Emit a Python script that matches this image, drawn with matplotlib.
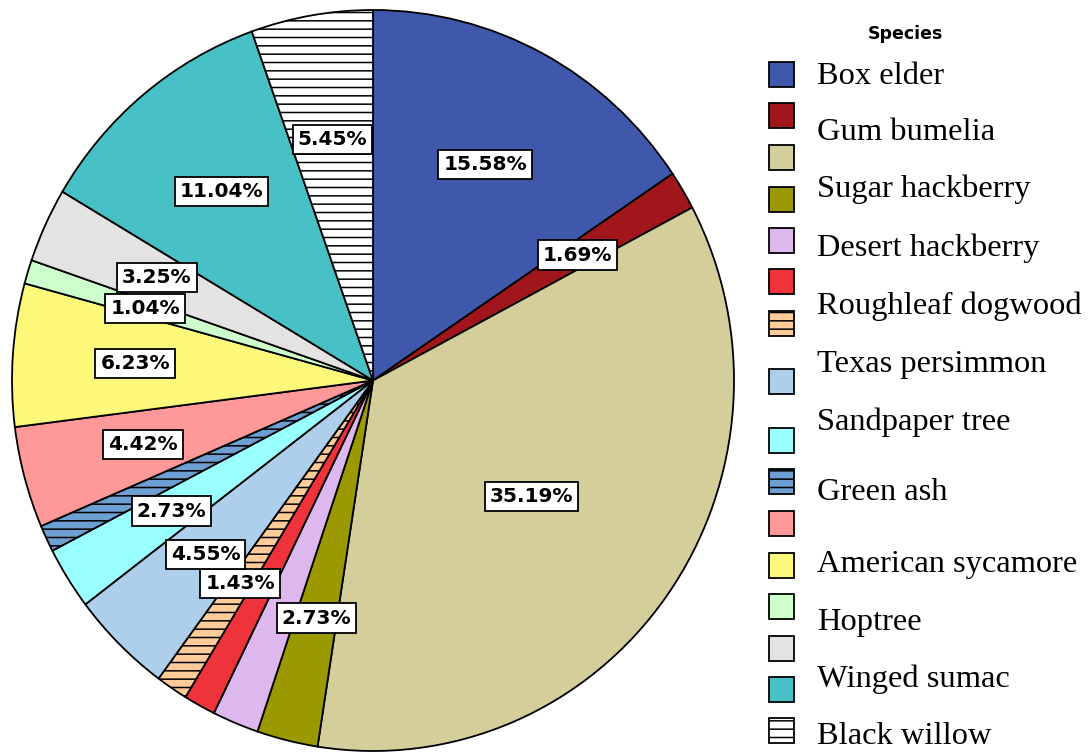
import numpy as np
import matplotlib
matplotlib.use("Agg")
from matplotlib import pyplot as plt
from matplotlib.patches import Rectangle

# share of stems (%), clockwise starting at 12 o'clock
pcts = [15.58, 1.69, 35.19, 2.73, 2.08, 1.43, 1.43, 4.55,
        2.73, 1.17, 4.42, 6.23, 1.04, 3.25, 11.04, 5.45]
slice_colors = ["#3F58AB", "#A1161B", "#D3CE9A", "#9A9A00", "#DDB8EF", "#EE333A",
                "#FFCC99", "#AECFEC", "#99FFFF", "#6D9FD2", "#FF9999", "#FBF87A",
                "#CCFFCC", "#E3E3E3", "#47C1C6", "#FFFFFF"]
hatched = [False, False, False, False, False, False, True, False,
           False, True, False, False, False, False, False, True]
show_pct = [True, True, True, True, False, False, True, True,
            True, False, True, True, True, True, True, True]

legend_title = "Species"
legend_names = ["Box elder", "Gum bumelia", "Sugar hackberry", "Desert hackberry",
                "Roughleaf dogwood", "Texas persimmon", "Sandpaper tree", "Green ash",
                "American sycamore", "Hoptree", "Winged sumac", "Black willow"]

# layout (pixels)
label_dist = [0.66] * len(pcts)
label_dist[2] = 0.54
swatch_tops = [62, 103, 145, 187, 228, 269, 311, 369, 428, 469, 511, 553, 594, 636, 677, 718]
name_baselines = [84, 140, 197, 256, 314, 372, 430, 500, 572, 630, 687, 744]

plt.rcParams['hatch.linewidth'] = 1.1

fig = plt.figure(figsize=(10.9, 7.53), dpi=100)
ax = fig.add_axes([12 / 1090, 2 / 753, 722 / 1090, 741 / 753])

wedges, _ = ax.pie(pcts, colors=slice_colors, startangle=90, counterclock=False,
                   wedgeprops=dict(edgecolor="black", linewidth=1.3))
for w, h in zip(wedges, hatched):
    if h:
        w.set_hatch("--")
ax.set_aspect("auto")
ax.set_xlim(-1, 1)
ax.set_ylim(-1, 1)

for w, p, show, r in zip(wedges, pcts, show_pct, label_dist):
    if not show:
        continue
    mid = np.deg2rad((w.theta1 + w.theta2) / 2)
    ax.text(r * np.cos(mid), r * np.sin(mid), f"{p:.2f}%", ha="center", va="center",
            fontsize=14.5, fontweight="bold", family="DejaVu Sans",
            bbox=dict(boxstyle="square,pad=0.25", facecolor="white",
                      edgecolor="black", linewidth=1.3))

# legend drawn by hand in pixel coordinates
lg = fig.add_axes([0, 0, 1, 1])
lg.set_xlim(0, 1090)
lg.set_ylim(753, 0)
lg.axis("off")
lg.text(905, 34, legend_title, ha="center", va="center", fontsize=12.5,
        fontweight="bold", family="DejaVu Sans")
for top, c, h in zip(swatch_tops, slice_colors, hatched):
    lg.add_patch(Rectangle((769, top), 25, 25, facecolor=c, edgecolor="black",
                           linewidth=1.3, hatch="--" if h else None))
for name, y in zip(legend_names, name_baselines):
    lg.text(817, y, name, ha="left", va="baseline", fontsize=23.4,
            family="Liberation Serif")

fig.savefig("out.png", dpi=100)
